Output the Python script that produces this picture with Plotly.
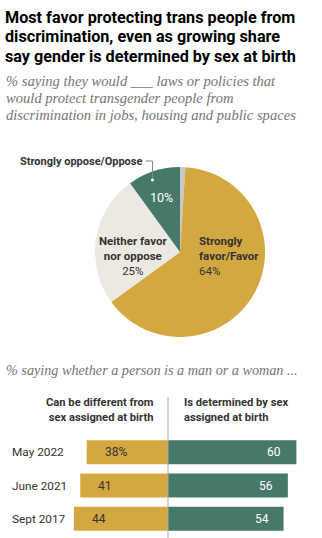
import plotly.graph_objects as go

# ---------------- data ----------------
pie_labels = ["No answer", "Strongly favor/Favor", "Neither favor nor oppose", "Strongly oppose/Oppose"]
pie_values = [1, 64, 25, 10]
pie_colors = ["#C8C8C8", "#D4A840", "#ECE9E2", "#46796A"]

years = ["May 2022", "June 2021", "Sept 2017"]
can_differ = [38, 41, 44]
determined = [60, 56, 54]
can_differ_labels = ["38%", "41", "44"]
determined_labels = ["60", "56", "54"]

title_lines = [
    "Most favor protecting trans people from",
    "discrimination, even as growing share",
    "say gender is determined by sex at birth",
]
subtitle_lines = [
    "% saying they would ___ laws or policies that",
    "would protect transgender people from",
    "discrimination in jobs, housing and public spaces",
]
subtitle2 = "% saying whether a person is a man or a woman ..."

W, H = 322, 538
GOLD, GREEN = "#D4A840", "#46796A"
SANS = "Roboto, Liberation Sans, Arial, sans-serif"
SERIF = "Liberation Serif, DejaVu Serif, serif"


def py(px):
    return 1 - px / H


def px_x(px):
    return px / W


fig = go.Figure()

# pie
fig.add_trace(go.Pie(
    labels=pie_labels, values=pie_values, sort=False, direction="clockwise",
    rotation=0, marker=dict(colors=pie_colors, line=dict(width=0)),
    textinfo="none", hoverinfo="skip", showlegend=False,
    domain=dict(x=[px_x(95), px_x(265)], y=[py(337), py(167)]),
))

# bars
fig.add_trace(go.Bar(
    y=years, x=[-v for v in can_differ], orientation="h", marker_color=GOLD,
    marker_line_width=0, hoverinfo="skip", showlegend=False,
))
fig.add_trace(go.Bar(
    y=years, x=determined, orientation="h", marker_color=GREEN,
    marker_line_width=0, hoverinfo="skip", showlegend=False,
))

scale = 2.14  # px per unit
zero_px = 168
fig.update_layout(
    width=W, height=H, margin=dict(l=0, r=0, t=0, b=0),
    paper_bgcolor="white", plot_bgcolor="white",
    barmode="relative", bargap=0.28,
    xaxis=dict(domain=[0, 1], range=[-zero_px / scale, (W - zero_px) / scale],
               visible=False, fixedrange=True),
    yaxis=dict(domain=[py(535.5), py(435.5)], autorange="reversed",
               visible=False, type="category", fixedrange=True),
    font=dict(family=SANS),
)

ann = []
# title
for i, t in enumerate(title_lines):
    ann.append(dict(text=f"<b>{t}</b>", x=px_x(3), y=py(17 + i * 19.5), xref="paper", yref="paper",
                    xanchor="left", yanchor="middle", showarrow=False,
                    font=dict(size=16.2, color="#000000", family=SANS)))
for i, t in enumerate(subtitle_lines):
    ann.append(dict(text=f"<i>{t}</i>", x=px_x(4), y=py(81 + i * 17), xref="paper", yref="paper",
                    xanchor="left", yanchor="middle", showarrow=False,
                    font=dict(size=14.6, color="#757575", family=SERIF)))
ann.append(dict(text=f"<i>{subtitle2}</i>", x=px_x(4), y=py(370), xref="paper", yref="paper",
                xanchor="left", yanchor="middle", showarrow=False,
                font=dict(size=14.2, color="#757575", family=SERIF)))

# pie labels
lab_dark = "#333333"
ann.append(dict(text="<b>Strongly</b><br><b>favor/Favor</b><br>64%", x=px_x(197), y=py(256),
                xref="paper", yref="paper", xanchor="left", yanchor="middle", align="left",
                showarrow=False, font=dict(size=11.5, color=lab_dark)))
ann.append(dict(text="<b>Neither favor</b><br><b>nor oppose</b><br>25%", x=px_x(133), y=py(256),
                xref="paper", yref="paper", xanchor="center", yanchor="middle", align="center",
                showarrow=False, font=dict(size=11.5, color=lab_dark)))
ann.append(dict(text="10%", x=px_x(162), y=py(197), xref="paper", yref="paper",
                xanchor="center", yanchor="middle", showarrow=False,
                font=dict(size=12.5, color="white")))
ann.append(dict(text="<b>Strongly oppose/Oppose</b>", x=px_x(144), y=py(161), xref="paper", yref="paper",
                xanchor="right", yanchor="middle", showarrow=False,
                font=dict(size=11, color=lab_dark)))

# column headers
ann.append(dict(text="<b>Can be different from</b><br><b>sex assigned at birth</b>", x=-12 / scale, y=py(410),
                xref="x", yref="paper", xanchor="right", yanchor="middle", align="right",
                showarrow=False, font=dict(size=11.2, color=lab_dark)))
ann.append(dict(text="<b>Is determined by sex</b><br><b>assigned at birth</b>", x=14 / scale, y=py(410),
                xref="x", yref="paper", xanchor="left", yanchor="middle", align="left",
                showarrow=False, font=dict(size=11.2, color=lab_dark)))

# row labels and bar values
for yr, a, b, la, lb in zip(years, can_differ, determined, can_differ_labels, determined_labels):
    ann.append(dict(text=yr, x=px_x(10), y=yr, xref="paper", yref="y", xanchor="left",
                    yanchor="middle", showarrow=False, font=dict(size=11.8, color=lab_dark)))
    ann.append(dict(text=la, x=-a, y=yr, xref="x", yref="y", xanchor="left", xshift=16,
                    yanchor="middle", showarrow=False, font=dict(size=12, color=lab_dark)))
    ann.append(dict(text=lb, x=b, y=yr, xref="x", yref="y", xanchor="right", xshift=-13,
                    yanchor="middle", showarrow=False, font=dict(size=12, color="white")))

fig.update_layout(annotations=ann)

shapes = [
    # center divider
    dict(type="line", xref="x", yref="paper", x0=0, x1=0, y0=0, y1=py(397),
         line=dict(color="#AAAAAA", width=1)),
    # leader line for oppose label
    dict(type="line", xref="paper", yref="paper", x0=px_x(146), x1=px_x(152.5), y0=py(161), y1=py(161),
         line=dict(color="#888888", width=1)),
    dict(type="line", xref="paper", yref="paper", x0=px_x(152.5), x1=px_x(152.5), y0=py(161), y1=py(180),
         line=dict(color="#888888", width=1)),
    dict(type="circle", xref="paper", yref="paper", x0=px_x(151), x1=px_x(154), y0=py(181.5), y1=py(178.5),
         fillcolor="white", line=dict(width=0)),
]
fig.update_layout(shapes=shapes)

fig.write_html("out.html", config=dict(displayModeBar=False, staticPlot=True))
